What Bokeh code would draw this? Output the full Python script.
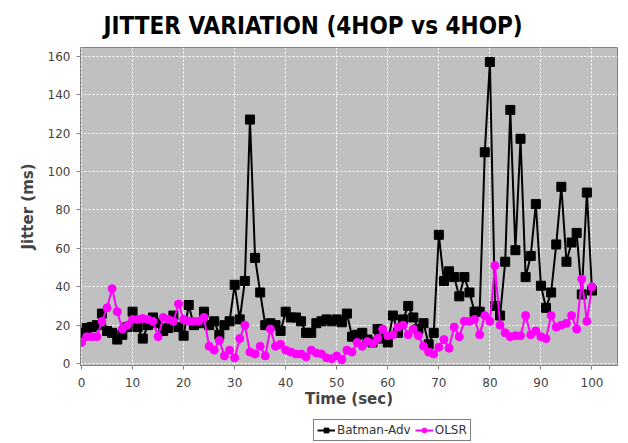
from bokeh.plotting import figure
from bokeh.models import Legend, LegendItem, Range1d, FixedTicker
from bokeh.layouts import column
from bokeh.embed import file_html
from bokeh.resources import INLINE

# ---- data ----
time_sec = list(range(0, 101))
batman_adv = [16, 18.5, 19, 20, 26, 17, 16, 12.5, 15, 19,
              27, 19, 13, 20, 24, 21, 17, 18.5, 25, 19,
              14.5, 30.5, 20, 21, 27, 20, 22, 15, 20, 22,
              41, 23, 43, 127, 55, 37, 20, 21, 20, 17,
              27, 24, 24, 22, 16, 16, 21, 22, 23, 22,
              23, 21.5, 26, 14, 15, 16, 12.5, 11, 18, 13,
              11, 25, 16, 23, 30, 24, 18, 21, 10, 16,
              67, 43, 48, 45, 35, 45, 37, 27, 27, 110,
              157, 30, 25, 53, 132, 59, 117, 45, 56, 83,
              40.5, 29, 37, 62, 92, 53, 63, 68, 36, 89, 38]
olsr = [11, 14, 14, 14, 22, 29, 39, 27, 18, 20,
        23, 23, 23.5, 23, 22, 14, 24, 23, 22, 31,
        23, 22, 22, 22, 24, 9, 7, 12, 4, 7,
        3, 13, 20, 6, 5, 9, 4, 18, 9, 10,
        7, 6, 5, 5, 3.5, 7, 5.5, 5, 3, 2.5,
        4, 2, 7, 6, 11, 9, 11.5, 10.5, 13, 18,
        14.5, 15, 19, 20, 15, 18, 14.5, 9, 6, 5,
        8.5, 12.5, 8, 19, 14, 22, 22, 23, 15, 25,
        22, 51, 20, 16, 14, 14.5, 14.5, 25, 15, 17,
        14, 13, 25, 19, 20, 21, 25, 18, 44, 22, 40]
x_ticks = [0, 10, 20, 30, 40, 50, 60, 70, 80, 90, 100]
y_ticks = [0, 20, 40, 60, 80, 100, 120, 140, 160]

BAT_COLOR = "black"
OLSR_COLOR = "#ff00ff"

# ---- main chart ----
p = figure(width=628, height=418, output_backend="svg", toolbar_location=None,
           x_range=Range1d(-0.2, 105), y_range=Range1d(-1, 164.5),
           min_border_left=80, min_border_right=11, min_border_top=47,
           min_border_bottom=53)

p.title.text = "JITTER VARIATION (4HOP vs 4HOP)"
p.title.align = "left"
p.title.offset = 23
p.title.standoff = 16
p.title.text_font = "'Liberation Sans Narrow', 'DejaVu Sans Condensed', 'Open Sans', sans-serif"
p.title.text_font_style = "bold"
p.title.text_font_size = "24px"
p.title.text_color = "black"

p.background_fill_color = "#c0c0c0"
p.border_fill_color = "white"
p.outline_line_color = "#808080"

for g in (p.xgrid, p.ygrid):
    g.grid_line_color = "white"
    g.grid_line_dash = "2 2"
    g.grid_line_width = 1
p.xgrid.ticker = FixedTicker(ticks=x_ticks)
p.ygrid.ticker = FixedTicker(ticks=y_ticks)

for ax in (p.xaxis, p.yaxis):
    ax.axis_line_color = "#808080"
    ax.major_tick_line_color = "#808080"
    ax.major_tick_in = 0
    ax.major_tick_out = 4
    ax.minor_tick_line_color = None
    ax.major_label_text_font = "DejaVu Sans"
    ax.major_label_text_font_size = "12px"
    ax.major_label_text_color = "#444444"
    ax.axis_label_text_font = "DejaVu Sans"
    ax.axis_label_text_font_style = "bold"
    ax.axis_label_text_font_size = "15px"
    ax.axis_label_text_color = "#444444"
p.xaxis.ticker = FixedTicker(ticks=x_ticks)
p.yaxis.ticker = FixedTicker(ticks=y_ticks)
p.xaxis.major_label_standoff = 8
p.yaxis.major_label_standoff = 6
p.xaxis.axis_label = "Time (sec)"
p.yaxis.axis_label = "Jitter (ms)"
p.xaxis.axis_label_standoff = 0
p.yaxis.axis_label_standoff = 8

p.line(time_sec, batman_adv, line_color=BAT_COLOR, line_width=2)
p.scatter(time_sec, batman_adv, marker="square", size=9, fill_color=BAT_COLOR, line_color=BAT_COLOR)
p.line(time_sec, olsr, line_color=OLSR_COLOR, line_width=2)
p.scatter(time_sec, olsr, marker="circle", size=8, fill_color=OLSR_COLOR, line_color=OLSR_COLOR)

# ---- legend strip (separate small figure; its series lie outside its range) ----
lg = figure(width=628, height=25, output_backend="svg", toolbar_location=None,
            x_range=Range1d(1000, 1001), y_range=Range1d(0, 1),
            x_axis_type=None, y_axis_type=None,
            min_border_left=0, min_border_right=0, min_border_top=0, min_border_bottom=0)
lg.outline_line_color = None
lg.background_fill_color = "white"
lg.border_fill_color = "white"
lr1 = lg.line(time_sec, batman_adv, line_color=BAT_COLOR, line_width=2)
ls1 = lg.scatter(time_sec, batman_adv, marker="square", size=8, fill_color=BAT_COLOR, line_color=BAT_COLOR)
lr2 = lg.line(time_sec, olsr, line_color=OLSR_COLOR, line_width=2)
ls2 = lg.scatter(time_sec, olsr, marker="circle", size=8, fill_color=OLSR_COLOR, line_color=OLSR_COLOR)

legend = Legend(items=[LegendItem(label="Batman-Adv", renderers=[lr1, ls1]),
                       LegendItem(label="OLSR", renderers=[lr2, ls2])],
                orientation="horizontal", location=(233, 2),
                border_line_color="black", border_line_width=1,
                background_fill_color="white", background_fill_alpha=1,
                label_text_font="DejaVu Sans", label_text_font_size="12px",
                label_text_color="#333333",
                glyph_width=18, glyph_height=12, label_standoff=2,
                label_height=12,
                spacing=4, padding=3, margin=0)
lg.add_layout(legend, "center")

layout = column(p, lg, spacing=0)

open("out.html", "w").write(file_html(layout, INLINE))
